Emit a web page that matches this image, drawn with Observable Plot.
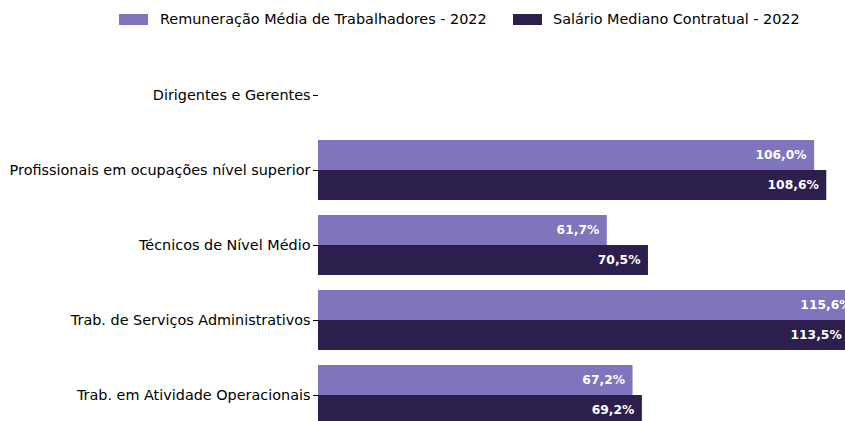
<!DOCTYPE html>
<html>
<head>
<meta charset="utf-8">
<script src="https://cdn.jsdelivr.net/npm/d3@7"></script>
<script src="https://cdn.jsdelivr.net/npm/@observablehq/plot@0.6"></script>
<style>
  html, body { margin: 0; padding: 0; background: #fff; }
  #wrap { position: relative; width: 845px; height: 421px; overflow: hidden; font-family: "DejaVu Sans", sans-serif; }
  #legend { position: absolute; top: 0; left: 0; width: 845px; height: 40px; font-size: 14.4px; color: #000; }
  .sw { position: absolute; top: 14px; width: 29px; height: 11px; }
  .lt { position: absolute; top: 10px; line-height: 18px; white-space: nowrap; }
  #chart { position: absolute; top: 0; left: 0; }
</style>
</head>
<body>
<div id="wrap">
  <div id="chart"></div>
  <div id="legend"></div>
</div>
<script>
const categories = [
  "Dirigentes e Gerentes",
  "Profissionais em ocupações nível superior",
  "Técnicos de Nível Médio",
  "Trab. de Serviços Administrativos",
  "Trab. em Atividade Operacionais"
];
const seriesNames = ["Remuneração Média de Trabalhadores - 2022", "Salário Mediano Contratual - 2022"];
const seriesColors = ["#8074bc", "#2d1f4d"];
const remuneracao = [null, 106.0, 61.7, 115.6, 67.2];
const salario = [null, 108.6, 70.5, 113.5, 69.2];

const fmt = v => v.toFixed(1).replace(".", ",") + "%";
const rowsA = categories.map((c, i) => ({cat: c, v: remuneracao[i]})).filter(d => d.v != null);
const rowsB = categories.map((c, i) => ({cat: c, v: salario[i]})).filter(d => d.v != null);

const plot = Plot.plot({
  width: 845,
  height: 421,
  marginLeft: 318,
  marginRight: 0,
  marginTop: 0,
  marginBottom: 0,
  style: {fontFamily: "DejaVu Sans, sans-serif", fontSize: "14.4px", color: "#000", background: "transparent"},
  x: {domain: [0, 112.6], range: [318, 845], axis: null},
  y: {type: "band", domain: categories, range: [57.5, 432.5], paddingInner: 0.2, paddingOuter: 0.1, label: null, tickSize: 5, tickPadding: 3},
  marks: [
    Plot.barX(rowsA, {x: "v", y: "cat", fill: seriesColors[0], insetBottom: 30, clip: true}),
    Plot.barX(rowsB, {x: "v", y: "cat", fill: seriesColors[1], insetTop: 30, clip: true}),
    Plot.text(rowsA, {x: "v", y: "cat", text: d => fmt(d.v), dy: -15, dx: -8, textAnchor: "end", fill: "white", fontWeight: "bold", fontSize: 12.3}),
    Plot.text(rowsB, {x: "v", y: "cat", text: d => fmt(d.v), dy: 15, dx: -8, textAnchor: "end", fill: "white", fontWeight: "bold", fontSize: 12.3})
  ]
});
document.getElementById("chart").appendChild(plot);

const legend = document.getElementById("legend");
const pos = [{sw: 119, tx: 160}, {sw: 513, tx: 553}];
seriesNames.forEach((name, i) => {
  const s = document.createElement("div");
  s.className = "sw";
  s.style.left = pos[i].sw + "px";
  s.style.background = seriesColors[i];
  legend.appendChild(s);
  const t = document.createElement("div");
  t.className = "lt";
  t.style.left = pos[i].tx + "px";
  t.textContent = name;
  legend.appendChild(t);
});
</script>
</body>
</html>
